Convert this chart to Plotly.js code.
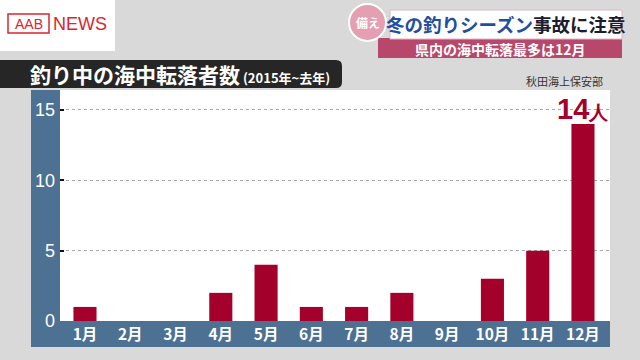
<!DOCTYPE html>
<html><head><meta charset="utf-8">
<script src="https://cdn.plot.ly/plotly-3.0.1.min.js"></script>
<style>html,body{margin:0;padding:0;background:#d9d9d9;}#chart{width:640px;height:360px;}</style>
</head><body><div id="chart"></div>
<script>
const months = ["1月","2月","3月","4月","5月","6月","7月","8月","9月","10月","11月","12月"];
const counts = [1,0,0,2,4,1,1,2,0,3,5,14];
const yTicks = [0,5,10,15];
const chartTitle = "釣り中の海中転落者数";
const chartSub = "(2015年~去年)";
const source = "秋田海上保安部";
const headline1 = "冬の釣りシーズン";
const headline2 = "事故に注意";
const subHeadline = "県内の海中転落最多は12月";
const peakLabel = "14";

const W=640,H=360,L=60,R=30,T=90,B=39;
const pw=W-L-R, ph=H-T-B;
const px = x => (x-L)/pw;
const py = y => (H-B-y)/ph;
const JP = "Noto Sans CJK JP";

const shapes = [
  {type:'rect',xref:'paper',yref:'paper',x0:px(31),x1:px(610),y0:py(347),y1:py(90),fillcolor:'#4d7192',line:{width:0},layer:'below'},
  {type:'rect',xref:'paper',yref:'paper',x0:px(60),x1:px(610),y0:py(321),y1:py(90),fillcolor:'#ffffff',line:{width:0},layer:'below'},
  {type:'path',xref:'paper',yref:'paper',path:`M ${px(0)},${py(60)} L ${px(336)},${py(60)} Q ${px(342)},${py(60)} ${px(342)},${py(66)} L ${px(342)},${py(82)} Q ${px(342)},${py(88)} ${px(336)},${py(88)} L ${px(0)},${py(88)} Z`,fillcolor:'#262626',line:{width:0}},
  {type:'rect',xref:'paper',yref:'paper',x0:px(0),x1:px(115),y0:py(51),y1:py(0),fillcolor:'#ffffff',line:{width:0}},
  {type:'rect',xref:'paper',yref:'paper',x0:px(8),x1:px(49),y0:py(33),y1:py(14),fillcolor:'rgba(0,0,0,0)',line:{width:1.5,color:'#d9262f'}},
  {type:'rect',xref:'paper',yref:'paper',x0:px(378),x1:px(622),y0:py(58),y1:py(38),fillcolor:'#b8476c',line:{width:0}},
  {type:'rect',xref:'paper',yref:'paper',x0:px(390),x1:px(622),y0:py(39),y1:py(10),fillcolor:'#ffffff',line:{width:1,color:'#e3b4c4'}},
  {type:'circle',xref:'paper',yref:'paper',x0:px(349),x1:px(386),y0:py(41),y1:py(4),fillcolor:'#e4a0b2',line:{width:2,color:'#ffffff'}}
];

const annotations = [
  {xref:'paper',yref:'paper',x:px(28),y:py(74),xanchor:'left',yanchor:'middle',showarrow:false,
   text:`<b>${chartTitle}</b><span style="font-size:13px"><b> ${chartSub}</b></span>`,font:{family:JP,size:21,color:'#ffffff'}},
  {xref:'paper',yref:'paper',x:px(605),y:py(81),xanchor:'right',yanchor:'middle',showarrow:false,
   text:source,font:{family:JP,size:11,color:'#333333'}},
  {xref:'paper',yref:'paper',x:px(28.5),y:py(24),xanchor:'center',yanchor:'middle',showarrow:false,
   text:'AAB',font:{family:'Liberation Sans',size:14,color:'#d9262f'}},
  {xref:'paper',yref:'paper',x:px(80),y:py(24),xanchor:'center',yanchor:'middle',showarrow:false,
   text:'NEWS',font:{family:'Liberation Sans',size:18,color:'#d9262f'}},
  {xref:'paper',yref:'paper',x:px(367.5),y:py(22.5),xanchor:'center',yanchor:'middle',showarrow:false,
   text:'<b>備え</b>',font:{family:JP,size:12,color:'#ffffff'}},
  {xref:'paper',yref:'paper',x:px(506),y:py(24),xanchor:'center',yanchor:'middle',showarrow:false,
   text:`<b><span style="color:#1f4fa0">${headline1}</span>${headline2}</b>`,font:{family:JP,size:18.5,color:'#1c1c30'}},
  {xref:'paper',yref:'paper',x:px(500),y:py(48.5),xanchor:'center',yanchor:'middle',showarrow:false,
   text:`<b>${subHeadline}</b>`,font:{family:JP,size:14,color:'#ffffff'}},
  {xref:'x',yref:'y',x:months[11],y:counts[11],xanchor:'center',yanchor:'bottom',yshift:-3,showarrow:false,
   text:`<b>${peakLabel}</b><span style="font-size:19px"><b>人</b></span>`,font:{family:'Liberation Sans',size:29,color:'#a3002b'}}
];

Plotly.newPlot('chart',[{
  type:'bar',x:months,y:counts,marker:{color:'#a3002b'},hoverinfo:'skip'
}],{
  width:W,height:H,margin:{l:L,r:R,t:T,b:B,pad:0},
  paper_bgcolor:'#d9d9d9',plot_bgcolor:'rgba(0,0,0,0)',
  bargap:0.49,showlegend:false,
  xaxis:{type:'category',range:[-0.552,11.597],showgrid:false,zeroline:false,showline:false,ticks:'',
    tickfont:{family:JP,size:15.5,color:'#ffffff',weight:'bold'},ticklabelstandoff:2},
  yaxis:{range:[0,16.42],tickvals:yTicks,ticks:'inside',ticklen:4,tickwidth:2,tickcolor:'#111111',
    showgrid:true,gridcolor:'#a8a8a8',griddash:'dot',gridwidth:1,zeroline:false,showline:false,
    tickfont:{family:'Liberation Sans',size:18,color:'#ffffff'},ticklabelstandoff:4},
  shapes:shapes,annotations:annotations
},{staticPlot:true});
</script></body></html>
